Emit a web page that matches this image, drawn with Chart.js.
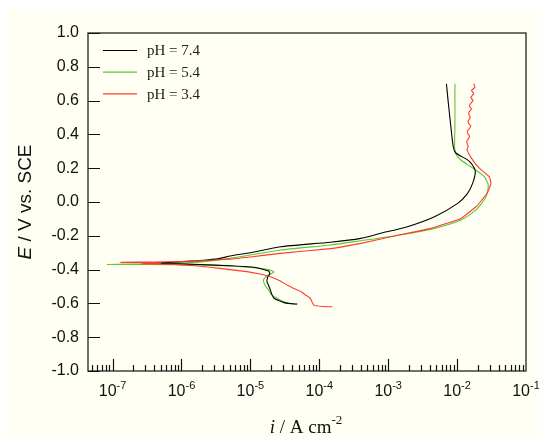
<!DOCTYPE html>
<html>
<head>
<meta charset="utf-8">
<script src="https://cdn.jsdelivr.net/npm/chart.js@4"></script>
<style>
  html, body { margin: 0; padding: 0; background: #ffffff; }
  canvas { display: block; }
</style>
</head>
<body>
<canvas id="tafelChart" width="539" height="437"></canvas>
<script>
// potentials (V vs. SCE) and current densities (A cm-2)
const labels = ['pH = 7.4', 'pH = 5.4', 'pH = 3.4'];
const colors = ['#000000', '#5ec630', '#ff3b30'];

const blackE = [-0.604, -0.600, -0.594, -0.585, -0.568, -0.545, -0.520, -0.490, -0.470, -0.445, -0.425, -0.410,
  -0.395, -0.385, -0.377, -0.370, -0.365, -0.362, -0.358, -0.350, -0.347, -0.335, -0.320, -0.300, -0.265,
  -0.238, -0.215, -0.185, -0.146, -0.087, -0.008, 0.050, 0.110, 0.180, 0.220, 0.249, 0.290, 0.327, 0.450, 0.600, 0.700];
const blackI = [4.79e-5, 3.55e-5, 3.02e-5, 2.63e-5, 2.19e-5, 2.04e-5, 1.95e-5, 1.82e-5, 1.74e-5, 1.78e-5, 1.91e-5, 1.86e-5,
  1.41e-5, 1.05e-5, 5.1e-6, 1.86e-6, 7.9e-7, 3.2e-7, 6.3e-7, 1.41e-6, 1.86e-6, 3.5e-6, 5.1e-6, 1.0e-5, 2.72e-5,
  1.45e-4, 4.0e-4, 7.8e-4, 1.9e-3, 4.7e-3, 1.02e-2, 1.41e-2, 1.68e-2, 1.84e-2, 1.66e-2, 1.42e-2, 9.6e-3, 8.8e-3, 8.1e-3, 7.4e-3, 7.0e-3];

const greenE = [-0.605, -0.596, -0.570, -0.550, -0.521, -0.491, -0.462, -0.445, -0.432, -0.420, -0.412, -0.400,
  -0.392, -0.379, -0.372, -0.370, -0.370, -0.366, -0.363, -0.350, -0.333, -0.314, -0.284, -0.254, -0.229,
  -0.195, -0.156, -0.107, -0.047, 0.031, 0.100, 0.150, 0.209, 0.250, 0.298, 0.450, 0.600, 0.700];
const greenI = [4.79e-5, 3.24e-5, 2.45e-5, 2.04e-5, 1.84e-5, 1.62e-5, 1.55e-5, 1.66e-5, 1.84e-5, 2.09e-5, 2.19e-5, 1.78e-5,
  1.38e-5, 5.1e-6, 1.58e-6, 3.2e-7, 8.3e-8, 3.2e-7, 9.5e-7, 2.5e-6, 5.1e-6, 1.0e-5, 2.72e-5, 1.45e-4, 4.0e-4,
  1.51e-3, 4.7e-3, 1.14e-2, 1.88e-2, 2.63e-2, 2.84e-2, 2.48e-2, 1.58e-2, 1.12e-2, 9.3e-3, 9.3e-3, 9.3e-3, 9.3e-3];

const redE = [-0.620, -0.618, -0.610, -0.570, -0.550, -0.530, -0.510, -0.491, -0.465, -0.442, -0.425, -0.412,
  -0.400, -0.386, -0.377, -0.370, -0.367, -0.366, -0.362, -0.358, -0.357, -0.355, -0.352, -0.348, -0.338,
  -0.325, -0.304, -0.276, -0.245, -0.201, -0.156, -0.097, -0.028, 0.050, 0.110, 0.150, 0.200, 0.249, 0.308,
  0.330, 0.345, 0.360, 0.375, 0.390, 0.405, 0.420, 0.435, 0.450, 0.465, 0.480, 0.500, 0.515, 0.530, 0.550,
  0.565, 0.580, 0.600, 0.620, 0.640, 0.660, 0.680, 0.700];
const redI = [1.55e-4, 1.12e-4, 8.3e-5, 7.4e-5, 6.3e-5, 5.4e-5, 4.2e-5, 3.4e-5, 2.63e-5, 1.95e-5, 1.32e-5, 8.9e-6,
  5.0e-6, 2.63e-6, 1.58e-6, 7.9e-7, 4.0e-7, 2.7e-7, 5.0e-7, 2.5e-7, 1.32e-7, 4.0e-7, 1.0e-6, 1.86e-6, 5.1e-6,
  1.0e-5, 2.72e-5, 1.45e-4, 4.0e-4, 1.22e-3, 4.2e-3, 1.14e-2, 1.88e-2, 2.72e-2, 3.1e-2, 2.93e-2, 2.1e-2, 1.68e-2, 1.39e-2,
  1.45e-2, 1.40e-2, 1.38e-2, 1.47e-2, 1.51e-2, 1.43e-2, 1.41e-2, 1.52e-2, 1.58e-2, 1.47e-2, 1.45e-2, 1.55e-2, 1.49e-2,
  1.48e-2, 1.62e-2, 1.52e-2, 1.55e-2, 1.70e-2, 1.58e-2, 1.74e-2, 1.62e-2, 1.82e-2, 1.74e-2];

const decades = [-7, -6, -5, -4, -3, -2, -1];
const yTicks = [-1.0, -0.8, -0.6, -0.4, -0.2, 0.0, 0.2, 0.4, 0.6, 0.8, 1.0];

function toPoints(iArr, eArr) {
  return iArr.map((v, k) => ({ x: v, y: eArr[k] }));
}

const sans = '"Liberation Sans", Arial, sans-serif';
const serif = '"Liberation Serif", "Times New Roman", serif';

const framePlugin = {
  id: 'frame',
  beforeDraw(chart) {
    const c = chart.ctx;
    c.save();
    c.fillStyle = '#ffffff';
    c.fillRect(0, 0, chart.width, chart.height);
    c.fillStyle = '#fffff4';
    c.fillRect(8, 10, chart.width - 8, chart.height - 10);
    c.restore();
  },
  afterDraw(chart) {
    const c = chart.ctx;
    const a = chart.chartArea;
    const xs = chart.scales.x;
    const ys = chart.scales.y;
    c.save();

    // box round the plot
    c.strokeStyle = '#333333';
    c.lineWidth = 1.4;
    c.strokeRect(a.left, a.top, a.right - a.left, a.bottom - a.top);

    // inward ticks
    c.strokeStyle = '#111111';
    c.lineWidth = 1.2;
    c.beginPath();
    yTicks.forEach(v => {
      const py = Math.round(ys.getPixelForValue(v)) + 0.5;
      c.moveTo(a.left, py);
      c.lineTo(a.left + 12, py);
    });
    decades.forEach(d => {
      for (let m = 1; m <= 9; m++) {
        const v = m * Math.pow(10, d - 1);
        if (v < xs.min || v > xs.max) continue;
        const px = Math.round(xs.getPixelForValue(v)) + 0.5;
        c.moveTo(px, a.bottom);
        c.lineTo(px, a.bottom - (m === 1 ? 12 : 6));
      }
    });
    c.stroke();

    // decade labels 10^n
    c.fillStyle = '#111111';
    c.textBaseline = 'alphabetic';
    c.textAlign = 'left';
    decades.forEach(d => {
      const px = xs.getPixelForValue(Math.pow(10, d));
      c.font = '16px ' + sans;
      const w1 = c.measureText('10').width;
      c.font = '11px ' + sans;
      const w2 = c.measureText(String(d)).width;
      const x0 = px - (w1 + w2) / 2;
      c.font = '16px ' + sans;
      c.fillText('10', x0, 396);
      c.font = '11px ' + sans;
      c.fillText(String(d), x0 + w1, 389);
    });

    // x title: i / A cm-2
    c.font = 'italic 19px ' + serif;
    const t1 = 'i';
    const wt1 = c.measureText(t1).width;
    c.font = '19px ' + serif;
    const t2 = ' / A cm';
    const wt2 = c.measureText(t2).width;
    c.font = '13px ' + serif;
    const wt3 = c.measureText('-2').width;
    let tx = 306 - (wt1 + wt2 + wt3) / 2;
    c.font = 'italic 19px ' + serif;
    c.fillText(t1, tx, 433);
    c.font = '19px ' + serif;
    c.fillText(t2, tx + wt1, 433);
    c.font = '13px ' + serif;
    c.fillText('-2', tx + wt1 + wt2, 424);

    // y title: E / V vs. SCE
    c.translate(31, (a.top + a.bottom) / 2);
    c.rotate(-Math.PI / 2);
    c.font = 'italic 19px ' + sans;
    const we = c.measureText('E').width;
    c.font = '19px ' + sans;
    const wr = c.measureText(' / V vs. SCE').width;
    const sx = -(we + wr) / 2;
    c.font = 'italic 19px ' + sans;
    c.fillText('E', sx, 0);
    c.font = '19px ' + sans;
    c.fillText(' / V vs. SCE', sx + we, 0);
    c.setTransform(1, 0, 0, 1, 0, 0);

    // legend in the top left corner
    c.font = '15px ' + serif;
    c.textBaseline = 'middle';
    labels.forEach((lab, k) => {
      const ly = 50.5 + k * 21.7;
      c.strokeStyle = colors[k];
      c.lineWidth = 1.2;
      c.beginPath();
      c.moveTo(103, ly);
      c.lineTo(137, ly);
      c.stroke();
      c.fillStyle = '#222222';
      c.fillText(lab, 147, ly + 1);
    });
    c.restore();
  }
};

const ctx = document.getElementById('tafelChart').getContext('2d');
new Chart(ctx, {
  type: 'scatter',
  data: {
    datasets: [
      { label: labels[0], data: toPoints(blackI, blackE), borderColor: colors[0], order: 1, tension: 0.2 },
      { label: labels[1], data: toPoints(greenI, greenE), borderColor: colors[1], order: 2, tension: 0.2 },
      { label: labels[2], data: toPoints(redI, redE), borderColor: colors[2], order: 0, tension: 0.1 }
    ].map(ds => Object.assign(ds, {
      showLine: true, pointRadius: 0, borderWidth: 1.1, fill: false
    }))
  },
  options: {
    responsive: false,
    animation: false,
    layout: { padding: { top: 33, right: 13, left: 0, bottom: 0 } },
    plugins: { legend: { display: false }, tooltip: { enabled: false } },
    scales: {
      x: {
        type: 'logarithmic',
        min: 4.4e-8,
        max: 0.1,
        ticks: { display: false },
        grid: { display: false },
        border: { display: false },
        afterFit: s => { s.height = 66; }
      },
      y: {
        min: -1,
        max: 1,
        ticks: {
          stepSize: 0.2,
          padding: 9,
          color: '#111111',
          font: { family: sans, size: 16 },
          callback: v => (Math.abs(v) < 1e-9 ? 0 : v).toFixed(1)
        },
        grid: { display: false, drawTicks: false },
        border: { display: false },
        afterFit: s => { s.width = 88; }
      }
    }
  },
  plugins: [framePlugin]
});
</script>
</body>
</html>
